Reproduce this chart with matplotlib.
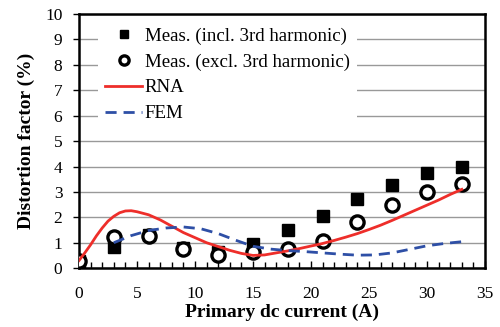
import matplotlib.pyplot as plt
from matplotlib.ticker import MultipleLocator

# measured points
current = [0, 3, 6, 9, 12, 15, 18, 21, 24, 27, 30, 33]
meas_incl = [0.3, 0.84, 1.3, 0.78, 0.65, 0.94, 1.5, 2.05, 2.73, 3.29, 3.73, 4.0]
meas_excl = [0.29, 1.23, 1.26, 0.75, 0.5, 0.65, 0.74, 1.06, 1.82, 2.47, 2.99, 3.31]

# RNA curve
rna_x = [0, 0.5, 1, 1.5, 2, 2.5, 3, 3.5, 4, 4.5, 5, 6, 7, 8, 9, 10, 11, 12,
         13, 14, 15, 16, 17, 18, 19, 20, 21, 22, 23, 24, 25, 26, 27, 28, 29,
         30, 31, 32, 33]
rna_y = [0.3, 0.6, 0.92, 1.27, 1.58, 1.85, 2.04, 2.18, 2.25, 2.26, 2.22, 2.1,
         1.9, 1.65, 1.4, 1.2, 1.0, 0.85, 0.7, 0.58, 0.5, 0.52, 0.6, 0.68, 0.77,
         0.87, 0.97, 1.09, 1.22, 1.36, 1.52, 1.69, 1.88, 2.08, 2.28, 2.48,
         2.68, 2.9, 3.1]

# FEM curve
fem_x = [3, 4.5, 6, 7.5, 9, 10.5, 12, 13.5, 15, 16.5, 18, 19.5, 21, 22.5, 24,
         25.5, 27, 28.5, 30, 31.5, 33]
fem_y = [1.0, 1.28, 1.48, 1.58, 1.62, 1.55, 1.36, 1.1, 0.86, 0.75, 0.69, 0.65,
         0.6, 0.55, 0.51, 0.52, 0.6, 0.74, 0.88, 0.97, 1.04]

plt.rcParams['font.family'] = ['Liberation Serif', 'DejaVu Serif']

fig = plt.figure(figsize=(5, 3.27), dpi=100)
ax = fig.add_axes([0.158, 0.18, 0.812, 0.777])

ax.plot(current, meas_incl, 's', color='black', markersize=9,
        label='Meas. (incl. 3rd harmonic)', zorder=3)
ax.plot(current, meas_excl, 'o', color='black', markerfacecolor='white',
        markersize=9.5, markeredgewidth=2.4,
        label='Meas. (excl. 3rd harmonic)', zorder=4)
ax.plot(rna_x, rna_y, '-', color='#EE2E2A', lw=2, label='RNA', zorder=5)
ax.plot(fem_x, fem_y, '--', color='#2E4FA6', lw=2, dashes=(4, 2.5),
        label='FEM', zorder=5)

ax.set_xlim(0, 35)
ax.set_ylim(0, 10)
ax.xaxis.set_major_locator(MultipleLocator(5))
ax.xaxis.set_minor_locator(MultipleLocator(1))
ax.yaxis.set_major_locator(MultipleLocator(1))
ax.tick_params(axis='x', direction='in', length=5, width=1, labelsize=12.5, pad=13)
ax.tick_params(axis='x', which='minor', direction='in', length=4, width=1)
ax.tick_params(axis='y', direction='out', length=4, width=1, labelsize=12.5, pad=8)
ax.grid(axis='y', color='#999999', lw=1)
ax.set_axisbelow(True)
for s in ax.spines.values():
    s.set_linewidth(1.8)

ax.set_xlabel('Primary dc current (A)', fontsize=14, fontweight='bold', labelpad=1)
ax.set_ylabel('Distortion factor (%)', fontsize=14, fontweight='bold', labelpad=7)

leg = ax.legend(loc='upper left', bbox_to_anchor=(0.046, 0.978),
                borderaxespad=0, fontsize=13.6, frameon=True, fancybox=False,
                edgecolor='none', facecolor='white', framealpha=1,
                markerscale=0.7, handlelength=1.95, labelspacing=0.46,
                handletextpad=0.15)
leg.set_zorder(2)

fig.savefig('out.png', dpi=100)
